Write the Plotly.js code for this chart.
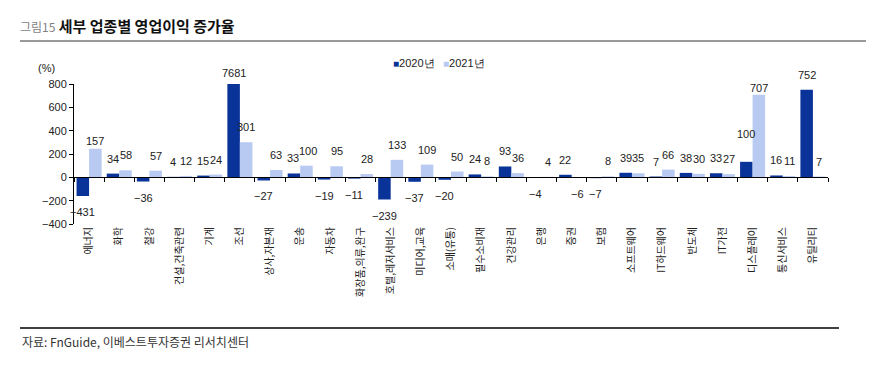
<!DOCTYPE html>
<html>
<head>
<meta charset="utf-8">
<script src="https://cdn.plot.ly/plotly-3.0.1.min.js"></script>
<style>html,body{margin:0;padding:0;background:#fff;}</style>
</head>
<body>
<div id="chart" style="width:885px;height:381px;"></div>
<script>
// ---- data ----
const categories = ['에너지','화학','철강','건설,건축관련','기계','조선','상사,자본재','운송','자동차','화장품,의류,완구','호텔,레저서비스','미디어,교육','소매(유통)','필수소비재','건강관리','은행','증권','보험','소프트웨어','IT하드웨어','반도체','IT가전','디스플레이','통신서비스','유틸리티'];
// bar heights as drawn in the picture (%)
const bars2020 = [-160, 32, -36, 4, 15, 7681, -27, 33, -19, -11, -190, -38, -21, 25, 93, -4, 22, -7, 39, 7, 38, 35, 133, 16, 750];
const bars2021 = [245, 60, 57, 12, 24, 301, 63, 100, 95, 28, 150, 109, 50, 8, 36, 4, -6, 8, 35, 66, 30, 27, 707, 11, 7];
// data labels as printed
const labels2020 = [-431, 34, -36, 4, 15, 7681, -27, 33, -19, -11, -239, -37, -20, 24, 93, -4, 22, -7, 39, 7, 38, 33, 100, 16, 752];
const labels2021 = [157, 58, 57, 12, 24, 301, 63, 100, 95, 28, 133, 109, 50, 8, 36, 4, -6, 8, 35, 66, 30, 27, 707, 11, 7];
const seriesNames = ['2020년', '2021년'];

// ---- styling ----
const C2020 = '#0a3399';
const C2021 = '#b8caf2';
const YMIN = -400, YMAX = 800;
const numFont = 'Liberation Sans Narrow, Arial Narrow, Liberation Sans, Arial, sans-serif';
const krFont = 'Noto Sans CJK KR, Noto Sans, sans-serif';
const fmt = v => (v < 0 ? '\u2212' + Math.abs(v) : String(v));
const BAR_OFF = 6.3;
// manual label nudges (pixels) where the original's labels sit off the standard spot
const nudge = {'0-5': 11, '1-0': 8, '0-22': 28, '1-22': 7};
const xnudge = {'0-7': -1, '1-7': 1.5};

const traces = [
  {type: 'bar', name: seriesNames[0], x: categories, y: bars2020, marker: {color: C2020}, hoverinfo: 'skip', showlegend: false},
  {type: 'bar', name: seriesNames[1], x: categories, y: bars2021, marker: {color: C2021}, hoverinfo: 'skip', showlegend: false},
  {type: 'scatter', mode: 'markers', x: categories, y: categories.map(() => 0), xaxis: 'x2', yaxis: 'y',
   marker: {opacity: 0}, showlegend: false, hoverinfo: 'skip'}
];

const annotations = [];
[[bars2020, labels2020, -BAR_OFF], [bars2021, labels2021, BAR_OFF]].forEach(([bars, labs, xs], s) => {
  bars.forEach((v, i) => {
    const yv = Math.min(Math.max(v, YMIN), YMAX);
    const key = s + '-' + i;
    let ys = v >= 0 ? 15 : -16;
    if (nudge[key] !== undefined) ys = nudge[key];
    annotations.push({
      x: categories[i], y: yv, xref: 'x', yref: 'y', text: fmt(labs[i]),
      showarrow: false, xshift: xs + (xnudge[key] || 0), yshift: ys, yanchor: 'middle', xanchor: 'center',
      font: {family: numFont, size: 11, color: '#222'}
    });
  });
});
annotations.push({xref: 'paper', yref: 'paper', x: -0.036, y: 1.114, text: '(%)', showarrow: false,
  xanchor: 'center', yanchor: 'middle', font: {family: numFont, size: 11, color: '#222'}});
annotations.push({xref: 'paper', yref: 'paper', x: -0.0716, y: -0.84, text: '자료: FnGuide, 이베스트투자증권 리서치센터',
  showarrow: false, xanchor: 'left', yanchor: 'middle', font: {family: krFont, size: 12, color: '#333'}});
// legend entries
[[seriesNames[0], C2020, 0.4204], [seriesNames[1], C2021, 0.4867]].forEach(([nm, col, lx]) => {
  annotations.push({xref: 'paper', yref: 'paper', x: lx, y: 1.15, xanchor: 'left', yanchor: 'middle', showarrow: false,
    text: '<span style="color:' + col + ';font-size:10px">\u25A0</span>' + nm,
    font: {family: numFont, size: 11, color: '#222'}});
});

const layout = {
  width: 885, height: 381, autosize: false,
  margin: {l: 74, r: 57, t: 84, b: 157, pad: 0},
  paper_bgcolor: '#fff', plot_bgcolor: '#fff',
  barmode: 'group', bargap: 0.17, bargroupgap: 0,
  title: {
    text: '<span style="font-size:12px;color:#7f7f7f;font-weight:normal">그림15</span> 세부 업종별 영업이익 증가율',
    x: 20 / 885, xanchor: 'left', xref: 'container', y: 1 - 27 / 381, yanchor: 'middle', yref: 'container',
    font: {family: krFont, size: 15, color: '#111', weight: 600}
  },
  xaxis: {
    type: 'category', categoryorder: 'array', categoryarray: categories, range: [-0.5, categories.length - 0.5],
    showline: false, ticks: '', tickangle: -90, showgrid: false, zeroline: false,
    tickfont: {family: krFont, size: 10, color: '#222'}, fixedrange: true
  },
  xaxis2: {
    type: 'category', categoryorder: 'array', categoryarray: categories, range: [-0.5, categories.length - 0.5],
    overlaying: 'x', anchor: 'free', position: (0 - YMIN) / (YMAX - YMIN),
    showline: true, linecolor: '#000', linewidth: 1, ticks: 'outside', tickson: 'boundaries', ticklen: 4,
    tickcolor: '#000', showticklabels: false, showgrid: false, zeroline: false
  },
  yaxis: {
    range: [YMIN, YMAX], dtick: 200, tick0: 0, showline: true, linecolor: '#000', linewidth: 1,
    ticks: 'outside', ticklen: 4, tickcolor: '#000', showgrid: false, zeroline: false,
    tickfont: {family: numFont, size: 11, color: '#222'}, fixedrange: true
  },
  showlegend: false,
  shapes: [
    {type: 'line', xref: 'paper', yref: 'paper', x0: -0.0716, x1: 1.0504, y0: 1.307, y1: 1.307,
     line: {color: '#999', width: 2}},
    {type: 'line', xref: 'paper', yref: 'paper', x0: -0.0716, x1: 1.0146, y0: -0.743, y1: -0.743,
     line: {color: '#000', width: 1.3}}
  ],
  annotations: annotations
};

Plotly.newPlot('chart', traces, layout, {staticPlot: true, displayModeBar: false});
</script>
</body>
</html>
